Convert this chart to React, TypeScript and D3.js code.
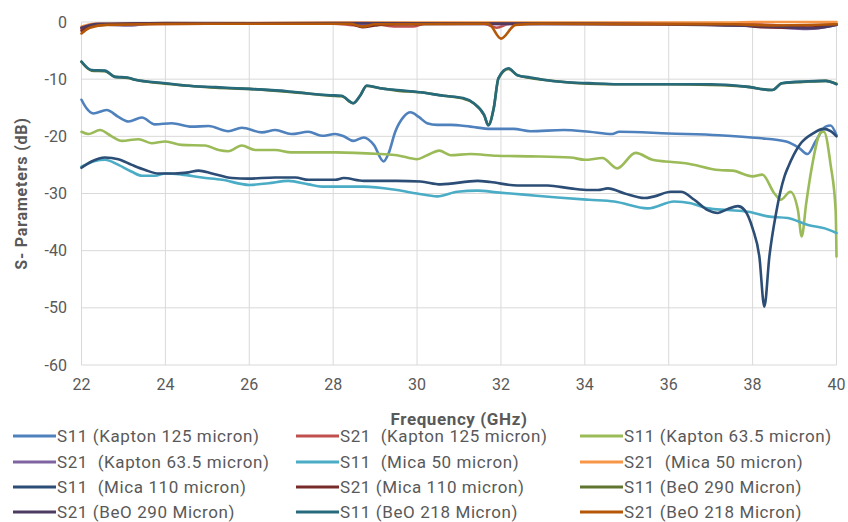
import React from "react";
import * as d3 from "d3";

type Pt = [number, number];

const xTicks = [22, 24, 26, 28, 30, 32, 34, 36, 38, 40];
const yTicks = [0, -10, -20, -30, -40, -50, -60];

const s11Kapton125: Pt[] = [
  [22.0, -13.6], [22.12, -15.1], [22.28, -16.0], [22.6, -15.4], [22.88, -16.6], [23.12, -17.4], [23.44, -16.7],
  [23.75, -17.9], [24.15, -17.7], [24.63, -18.3], [25.03, -18.2], [25.5, -19.1], [25.82, -18.5], [26.3, -19.3],
  [26.62, -18.9], [27.0, -19.6], [27.41, -19.2], [27.73, -19.9], [28.05, -19.6], [28.25, -20.0], [28.48, -20.8],
  [28.73, -20.2], [28.97, -21.5], [29.2, -24.4], [29.32, -23.0], [29.48, -19.2], [29.68, -16.6], [29.84, -15.8],
  [30.04, -16.6], [30.24, -17.7], [30.48, -18.0], [30.8, -18.0], [31.27, -18.3], [31.75, -18.7], [32.3, -18.7],
  [32.7, -19.1], [33.5, -18.9], [34.1, -19.2], [34.65, -19.6], [34.82, -19.2], [36.0, -19.5], [37.2, -19.8],
  [38.15, -20.3], [38.8, -20.9], [39.1, -22.0], [39.31, -23.1], [39.5, -20.9], [39.74, -18.3], [39.86, -18.1],
  [40.0, -19.8],
];

const s21Kapton125: Pt[] = [
  [22.0, -1.2], [22.3, -0.6], [23.0, -0.4], [25.0, -0.3], [28.0, -0.3], [28.6, -0.6], [29.0, -0.4], [29.5, -0.8],
  [29.9, -0.8], [30.2, -0.3], [31.6, -0.3], [31.9, -1.0], [32.2, -0.3], [35.0, -0.3], [38.0, -0.4], [39.0, -0.7],
  [40.0, -0.4],
];

const s11Kapton63: Pt[] = [
  [22.0, -19.2], [22.16, -19.6], [22.44, -18.9], [22.72, -20.0], [22.96, -20.8], [23.36, -20.5], [23.67, -21.2],
  [24.0, -20.9], [24.39, -21.5], [24.95, -21.6], [25.27, -22.4], [25.5, -22.6], [25.82, -21.6], [26.14, -22.4],
  [26.62, -22.4], [27.0, -22.8], [28.05, -22.8], [29.12, -23.1], [29.52, -23.3], [30.0, -24.0], [30.24, -23.3],
  [30.53, -22.5], [30.8, -23.3], [31.27, -23.1], [31.9, -23.4], [32.7, -23.5], [33.66, -23.7], [34.0, -24.1],
  [34.42, -23.8], [34.77, -25.6], [35.21, -22.9], [35.61, -24.1], [35.92, -24.4], [36.4, -24.7], [37.2, -25.9],
  [37.52, -26.0], [38.0, -27.0], [38.23, -26.7], [38.52, -30.0], [38.67, -31.1], [38.9, -29.7], [39.08, -32.9],
  [39.17, -37.5], [39.28, -31.6], [39.4, -25.9], [39.63, -19.3], [39.7, -19.2], [39.86, -25.0], [39.98, -33.0],
  [40.0, -41.0],
];

const s21Kapton63: Pt[] = [
  [22.0, -1.0], [22.3, -0.4], [23.2, -0.6], [23.6, -0.3], [26.0, -0.3], [30.0, -0.3], [32.0, -0.4], [36.0, -0.4],
  [38.5, -0.9], [39.3, -1.2], [40.0, -0.5],
];

const s11Mica50: Pt[] = [
  [22.0, -25.3], [22.32, -24.3], [22.56, -24.1], [22.88, -25.0], [23.2, -26.2], [23.44, -26.9], [23.75, -26.9],
  [24.0, -26.5], [24.39, -26.7], [24.87, -27.2], [25.35, -27.6], [26.0, -28.5], [26.46, -28.2], [26.93, -27.8],
  [27.41, -28.4], [27.73, -28.8], [28.05, -28.8], [28.73, -28.8], [29.52, -29.4], [30.0, -30.0], [30.48, -30.5],
  [30.96, -29.7], [31.44, -29.5], [31.9, -29.8], [32.55, -30.2], [33.35, -30.7], [34.1, -31.1], [34.7, -31.4],
  [35.5, -32.6], [36.13, -31.4], [36.53, -31.7], [36.93, -32.6], [37.41, -32.9], [37.89, -33.2], [38.36, -34.0],
  [38.84, -34.3], [39.32, -35.5], [39.72, -36.1], [40.0, -36.9],
];

const s21Mica50: Pt[] = [
  [22.0, -0.8], [22.3, -0.3], [30.0, -0.1], [37.5, -0.1], [38.0, 0.0], [40.0, 0.0],
];

const s11Mica110: Pt[] = [
  [22.0, -25.5], [22.24, -24.4], [22.56, -23.7], [22.88, -24.0], [23.2, -25.0], [23.52, -25.9], [23.83, -26.5],
  [24.23, -26.5], [24.55, -26.3], [24.79, -26.0], [25.11, -26.5], [25.59, -27.3], [25.98, -27.4], [26.62, -27.2],
  [27.1, -27.2], [27.41, -27.6], [28.05, -27.6], [28.25, -27.3], [28.73, -27.8], [29.52, -27.8], [30.08, -27.9],
  [30.56, -28.4], [31.44, -27.8], [31.75, -28.0], [32.39, -28.6], [33.11, -28.6], [33.66, -29.1], [34.1, -29.4],
  [34.31, -29.4], [34.55, -29.1], [34.95, -30.0], [35.42, -30.8], [35.66, -30.5], [36.05, -29.7], [36.29, -29.7],
  [36.61, -31.1], [36.93, -32.9], [37.17, -33.4], [37.41, -32.7], [37.65, -32.2], [37.81, -32.9], [38.0, -36.1],
  [38.16, -41.0], [38.28, -49.8], [38.4, -41.0], [38.56, -33.4], [38.76, -27.0], [38.85, -25.3], [39.12, -21.5],
  [39.44, -19.5], [39.68, -18.7], [39.86, -19.1], [40.0, -20.0],
];

const s21Mica110: Pt[] = [
  [22.0, -1.5], [22.4, -0.5], [24.0, -0.2], [28.4, -0.3], [28.7, -0.9], [29.0, -0.6], [29.3, -0.4], [32.0, -0.3],
  [37.5, -0.4], [38.2, -0.9], [39.3, -1.0], [40.0, -0.4],
];

const s11BeO290: Pt[] = [
  [22.0, -7.0], [22.24, -8.5], [22.56, -8.6], [22.8, -9.6], [23.1, -9.8], [23.28, -10.1], [24.0, -10.8],
  [24.47, -11.1], [25.2, -11.5], [26.0, -11.7], [26.9, -12.2], [27.4, -12.5], [27.93, -12.9], [28.2, -13.0],
  [28.48, -14.2], [28.65, -12.8], [28.8, -11.2], [29.12, -11.6], [29.52, -12.0], [30.08, -12.3], [30.63, -12.9],
  [31.1, -13.4], [31.35, -14.2], [31.6, -16.3], [31.7, -18.0], [31.83, -15.0], [31.94, -9.9], [32.18, -8.2],
  [32.39, -9.3], [32.7, -9.8], [33.0, -10.1], [33.5, -10.5], [34.1, -10.8], [35.0, -10.9], [36.0, -10.9],
  [37.0, -11.0], [37.84, -11.3], [38.47, -11.9], [38.7, -10.7], [39.2, -10.5], [39.74, -10.3], [40.0, -10.8],
];

const s21BeO290: Pt[] = [
  [22.0, -1.0], [22.4, -0.3], [28.0, -0.2], [34.0, -0.3], [38.5, -0.8], [39.5, -1.1], [40.0, -0.5],
];

const s11BeO218: Pt[] = [
  [22.0, -6.9], [22.24, -8.4], [22.56, -8.5], [22.8, -9.6], [23.1, -9.7], [23.28, -10.1], [24.0, -10.7],
  [24.47, -11.1], [25.2, -11.4], [26.0, -11.7], [26.9, -12.1], [27.4, -12.5], [27.93, -12.8], [28.2, -12.9],
  [28.48, -14.2], [28.65, -12.8], [28.8, -11.1], [29.12, -11.6], [29.52, -11.9], [30.08, -12.3], [30.63, -12.9],
  [31.1, -13.3], [31.35, -14.2], [31.6, -16.3], [31.7, -18.1], [31.83, -15.0], [31.94, -9.8], [32.18, -8.1],
  [32.39, -9.3], [32.7, -9.7], [33.0, -10.1], [33.5, -10.5], [34.1, -10.7], [35.0, -10.9], [36.0, -10.9],
  [37.0, -10.9], [37.84, -11.3], [38.47, -11.9], [38.7, -10.7], [39.2, -10.4], [39.74, -10.3], [40.0, -10.9],
];

const s21BeO218: Pt[] = [
  [22.0, -2.0], [22.2, -1.0], [22.6, -0.5], [25.0, -0.3], [28.4, -0.3], [28.7, -0.8], [29.0, -0.4], [31.7, -0.3],
  [32.0, -2.9], [32.35, -0.5], [33.0, -0.3], [35.0, -0.4], [37.5, -0.4], [38.5, -0.6], [40.0, -0.4],
];

const seriesNames = [
  "S11 (Kapton 125 micron)",
  "S21  (Kapton 125 micron)",
  "S11 (Kapton 63.5 micron)",
  "S21  (Kapton 63.5 micron)",
  "S11  (Mica 50 micron)",
  "S21  (Mica 50 micron)",
  "S11  (Mica 110 micron)",
  "S21 (Mica 110 micron)",
  "S11 (BeO 290 Micron)",
  "S21 (BeO 290 Micron)",
  "S11 (BeO 218 Micron)",
  "S21 (BeO 218 Micron)",
];

const seriesData: Pt[][] = [
  s11Kapton125, s21Kapton125, s11Kapton63, s21Kapton63, s11Mica50, s21Mica50,
  s11Mica110, s21Mica110, s11BeO290, s21BeO290, s11BeO218, s21BeO218,
];

const colors = [
  "#4F81BD", "#C0504D", "#9BBB59", "#8064A2", "#4BACC6", "#F79646",
  "#2C4D75", "#772C2A", "#5F7530", "#4D3B62", "#276A7C", "#B65708",
];

const W = 848;
const H = 522;
const left = 81.5;
const right = 836.5;
const top = 22;
const bottom = 365;
const font = "Roboto, 'Open Sans', sans-serif";
const textColor = "#595959";

export default function App() {
  const x = d3.scaleLinear().domain([22, 40]).range([left, right]);
  const y = d3.scaleLinear().domain([0, -60]).range([top, bottom]);
  const line = d3
    .line<Pt>()
    .x((d) => x(d[0]))
    .y((d) => y(d[1]))
    .curve(d3.curveMonotoneX);

  const legendCols = [13, 296, 580];
  const legendRows = [436, 462, 487, 512];

  return (
    <svg
      width={W}
      height={H}
      style={{ position: "absolute", left: 0, top: 0, background: "#fff" }}
      fontFamily={font}
    >
      <rect x={0} y={0} width={W} height={H} fill="#fff" />
      {xTicks.map((t) => (
        <line key={"gx" + t} x1={x(t)} x2={x(t)} y1={top} y2={bottom} stroke="#D9D9D9" strokeWidth={1} />
      ))}
      {yTicks.map((t) => (
        <line key={"gy" + t} x1={left} x2={right} y1={y(t)} y2={y(t)} stroke="#D9D9D9" strokeWidth={1} />
      ))}
      {yTicks.map((t) => (
        <text key={"ty" + t} x={67} y={y(t)} dy="0.35em" textAnchor="end" fontSize={16} fill={textColor}>
          {t}
        </text>
      ))}
      {xTicks.map((t) => (
        <text key={"tx" + t} x={x(t)} y={390} textAnchor="middle" fontSize={16} fill={textColor}>
          {t}
        </text>
      ))}
      <text
        transform={`translate(27,${(top + bottom) / 2}) rotate(-90)`}
        textAnchor="middle"
        fontSize={16}
        fontWeight="bold"
        letterSpacing={0.8}
        fill={textColor}
      >
        S- Parameters (dB)
      </text>
      <text x={459} y={425} textAnchor="middle" fontSize={17} fontWeight="bold" letterSpacing={0.6} fill={textColor}>
        Frequency (GHz)
      </text>
      {seriesData.map((d, i) => (
        <path
          key={"s" + i}
          d={line(d) || ""}
          fill="none"
          stroke={colors[i]}
          strokeWidth={2.6}
          strokeLinejoin="round"
          strokeLinecap="round"
        />
      ))}
      {seriesNames.map((name, i) => {
        const cx = legendCols[i % 3];
        const cy = legendRows[Math.floor(i / 3)];
        return (
          <g key={"lg" + i}>
            <line x1={cx} x2={cx + 43} y1={cy} y2={cy} stroke={colors[i]} strokeWidth={3} />
            <text
              x={cx + 44}
              y={cy}
              dy="0.35em"
              fontSize={17}
              letterSpacing={0.6}
              fill={textColor}
              style={{ whiteSpace: "pre" }}
            >
              {name}
            </text>
          </g>
        );
      })}
    </svg>
  );
}
